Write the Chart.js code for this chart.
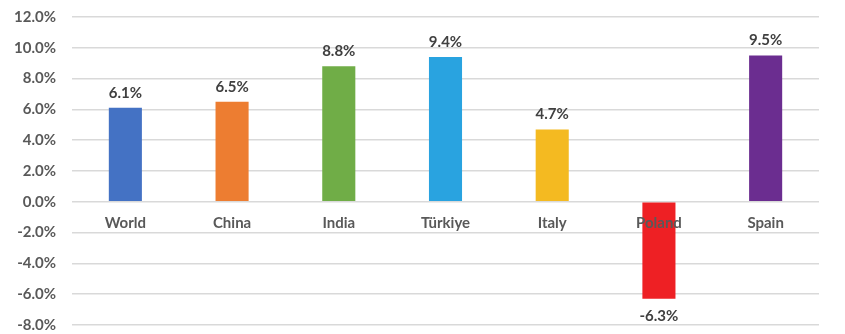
<!DOCTYPE html>
<html>
<head>
<meta charset="utf-8">
<script src="https://cdn.jsdelivr.net/npm/chart.js@4"></script>
<style>
html,body{margin:0;padding:0;background:#fff;}
#wrap{width:845px;height:334px;position:relative;}
</style>
</head>
<body>
<div id="wrap"><canvas id="c" width="845" height="334"></canvas></div>
<script>
const categories = ["World", "China", "India", "Türkiye", "Italy", "Poland", "Spain"];
const values = [6.1, 6.5, 8.8, 9.4, 4.7, -6.3, 9.5];
const barColors = ["#4472C4", "#ED7D31", "#70AD47", "#29A3E0", "#F4BA21", "#EE2024", "#6B2D90"];
const yMin = -8, yMax = 12, yStep = 2;

const FONT = "Lato, 'Open Sans', sans-serif";

const labelPlugin = {
  id: 'valueLabels',
  afterDatasetsDraw(chart) {
    const ctx = chart.ctx;
    const meta = chart.getDatasetMeta(0);
    ctx.save();
    ctx.font = "bold 15px " + FONT;
    ctx.fillStyle = "#404040";
    ctx.textAlign = "center";
    ctx.textBaseline = "middle";
    meta.data.forEach((bar, i) => {
      const v = values[i];
      const y = v >= 0 ? bar.y - 15 : bar.y + 17;
      ctx.fillText(v.toFixed(1) + "%", bar.x, y);
    });
    ctx.restore();
  }
};

new Chart(document.getElementById('c'), {
  type: 'bar',
  data: {
    labels: categories,
    datasets: [{
      data: values,
      backgroundColor: barColors,
      borderWidth: 0,
      barPercentage: 0.31,
      categoryPercentage: 1.0
    }]
  },
  options: {
    responsive: false,
    animation: false,
    devicePixelRatio: 1,
    layout: { padding: { left: 0, right: 26, top: 17, bottom: 9 } },
    plugins: { legend: { display: false }, tooltip: { enabled: false } },
    scales: {
      x: {
        position: { y: 0 },
        afterFit(scale) { scale.height = 0; },
        grid: { display: false, drawTicks: false },
        border: { display: false },
        ticks: {
          z: 1,
          padding: 12,
          color: "#595959",
          font: { family: FONT, size: 15, weight: 'bold' }
        }
      },
      y: {
        min: yMin, max: yMax,
        afterFit(scale) { scale.width = 72; },
        grid: { color: "#d9d9d9", lineWidth: 1.5, drawTicks: true, tickLength: 16, tickColor: 'rgba(0,0,0,0)' },
        border: { display: false },
        ticks: {
          stepSize: yStep,
          padding: 0,
          color: "#595959",
          font: { family: FONT, size: 15, weight: 'bold' },
          callback: v => v.toFixed(1) + "%"
        }
      }
    }
  },
  plugins: [labelPlugin]
});
</script>
</body>
</html>
